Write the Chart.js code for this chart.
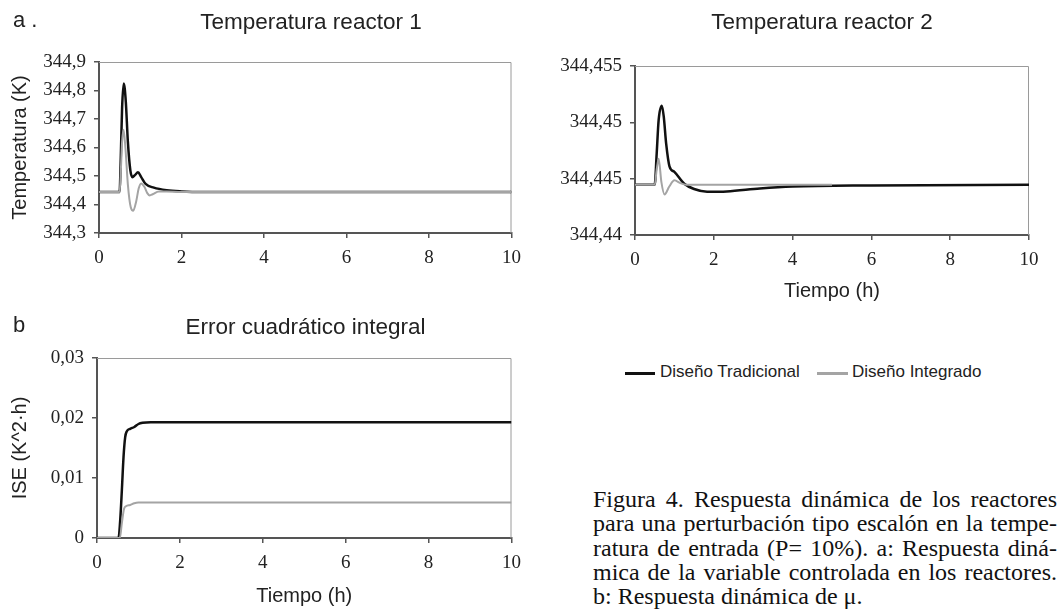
<!DOCTYPE html>
<html>
<head>
<meta charset="utf-8">
<script src="https://cdn.jsdelivr.net/npm/chart.js@4.4.1/dist/chart.umd.min.js"></script>
<style>
  body { margin: 0; background: #fff; width: 1061px; height: 609px; overflow: hidden; position: relative; }
  canvas { position: absolute; }
  .txt { position: absolute; font-family: "Liberation Sans", Arial, sans-serif; color: #222; white-space: nowrap; }
  .cap { position: absolute; left: 593px; top: 487px; width: 464px; font-family: "Liberation Serif", "Times New Roman", serif; font-size: 24px; color: #111; }
  .cap div { height: 24.25px; line-height: 24.25px; text-align: justify; text-align-last: justify; white-space: nowrap; }
  .cap div.last { text-align-last: left; }
  .leg { position: absolute; top: 372px; height: 2.5px; }
</style>
</head>
<body>
<canvas id="r1" width="530" height="300" style="left:0;top:0"></canvas>
<canvas id="r2" width="531" height="310" style="left:530px;top:0"></canvas>
<canvas id="ise" width="530" height="309" style="left:0;top:300px"></canvas>

<div class="txt" style="left:13px;top:7px;font-size:22px">a .</div>
<div class="txt" style="left:13px;top:312px;font-size:22px">b</div>

<div class="leg" style="left:625px;width:30px;background:#111"></div>
<div class="txt" style="left:660px;top:362px;font-size:17px">Diseño Tradicional</div>
<div class="leg" style="left:817px;width:31px;background:#a4a4a4"></div>
<div class="txt" style="left:852px;top:362px;font-size:17px">Diseño Integrado</div>

<div class="cap">
  <div>Figura 4. Respuesta dinámica de los reactores</div>
  <div>para una perturbación tipo escalón en la tempe-</div>
  <div>ratura de entrada (P= 10%). a: Respuesta diná-</div>
  <div>mica de la variable controlada en los reactores.</div>
  <div class="last">b: Respuesta dinámica de μ.</div>
</div>

<script>
// Temperatura reactor 1
let tiempoR1Trad = [0, 0.5, 0.52, 0.56, 0.6, 0.65, 0.7, 0.76, 0.81, 0.87, 0.945, 1.02, 1.13, 1.33, 1.64, 2.0, 2.5, 3, 10];
let tempR1Trad = [344.444, 344.444, 344.52, 344.74, 344.825, 344.76, 344.62, 344.52, 344.496, 344.503, 344.513, 344.497, 344.472, 344.459, 344.45, 344.446, 344.444, 344.444, 344.444];
let tiempoR1Int = [0, 0.5, 0.53, 0.56, 0.595, 0.64, 0.7, 0.77, 0.83, 0.9, 0.96, 1.02, 1.1, 1.17, 1.23, 1.3, 1.45, 1.64, 2, 10];
let tempR1Int = [344.444, 344.444, 344.52, 344.62, 344.662, 344.6, 344.47, 344.39, 344.378, 344.41, 344.455, 344.474, 344.462, 344.44, 344.432, 344.436, 344.446, 344.446, 344.444, 344.444];

// Temperatura reactor 2
let tiempoR2Trad = [0, 0.5, 0.55, 0.6, 0.68, 0.73, 0.79, 0.875, 1.0, 1.25, 1.5, 1.83, 2.33, 3.17, 4, 6, 10];
let tempR2Trad = [344.44446, 344.44446, 344.4472, 344.4502, 344.45148, 344.4505, 344.44813, 344.4461, 344.4456, 344.44455, 344.44408, 344.44384, 344.44387, 344.44413, 344.4443, 344.4444, 344.44446];
let tiempoR2Int = [0, 0.5, 0.55, 0.6, 0.67, 0.75, 0.87, 1.0, 1.15, 1.3, 5];
let tempR2Int = [344.44446, 344.44446, 344.4458, 344.44676, 344.4447, 344.4436, 344.4443, 344.44485, 344.4446, 344.44446, 344.44446];

// Error cuadrático integral
let tiempoIseTrad = [0, 0.52, 0.56, 0.6, 0.64, 0.68, 0.72, 0.8, 0.9, 1.0, 1.1, 1.3, 1.6, 10];
let iseTrad = [0, 0, 0.003, 0.008, 0.0135, 0.0168, 0.0178, 0.0182, 0.0185, 0.019, 0.0192, 0.0193, 0.0193, 0.0193];
let tiempoIseInt = [0, 0.55, 0.6, 0.65, 0.7, 0.8, 0.9, 1.0, 10];
let iseInt = [0, 0, 0.0025, 0.0048, 0.0053, 0.0055, 0.0058, 0.0059, 0.0059];

let xTicks = [0, 2, 4, 6, 8, 10];

const negro = "#111";
const gris = "#a4a4a4";
const tickFont = { family: "'Liberation Serif', 'Times New Roman', serif", size: 19 };
const titleFont = { family: "'Liberation Sans', Arial, sans-serif", size: 20 };

function pares(xs, ys) {
  return xs.map((x, i) => ({ x: x, y: ys[i] }));
}

function coma(v, d) {
  return String(Number(v.toFixed(d))).replace(".", ",");
}

// thin grey frame on top and right
const marco = {
  id: "marco",
  beforeDatasetsDraw(chart) {
    const { ctx, chartArea: a } = chart;
    ctx.save();
    ctx.strokeStyle = "#9a9a9a";
    ctx.lineWidth = 1;
    ctx.beginPath();
    ctx.moveTo(a.left, a.top + 0.5);
    ctx.lineTo(a.right - 0.5, a.top + 0.5);
    ctx.lineTo(a.right - 0.5, a.bottom);
    ctx.stroke();
    ctx.restore();
  },
};

function grafico(id, opts) {
  let datasets = [
    {
      label: "Diseño Integrado",
      data: pares(opts.tInt, opts.vInt),
      borderColor: gris,
      borderWidth: 2,
    },
    {
      label: "Diseño Tradicional",
      data: pares(opts.tTrad, opts.vTrad),
      borderColor: negro,
      borderWidth: 2.5,
    },
  ];
  datasets.forEach((d) => {
    d.pointRadius = 0;
    d.fill = false;
    d.cubicInterpolationMode = "monotone";
  });

  let config = {
    type: "line",
    data: { datasets: datasets },
    options: {
      responsive: false,
      animation: false,
      events: [],
      layout: { padding: opts.padding },
      plugins: { legend: { display: false }, title: { display: false }, tooltip: { enabled: false } },
      scales: {
        x: {
          type: "linear",
          min: 0,
          max: 10,
          afterBuildTicks: (s) => { s.ticks = xTicks.map((v) => ({ value: v })); },
          afterFit: (s) => { s.height = opts.xHeight; },
          border: { color: "#555", width: 2 },
          grid: { drawOnChartArea: false, tickLength: 5, color: "#555", lineWidth: 1.5 },
          ticks: { font: tickFont, color: "#222", padding: 9, maxRotation: 0 },
          title: {
            display: !!opts.xTitle,
            text: opts.xTitle || "",
            font: titleFont,
            color: "#222",
            padding: { top: 0, bottom: opts.xTitlePad || 0 },
          },
        },
        y: {
          type: "linear",
          min: opts.yMin,
          max: opts.yMax,
          afterBuildTicks: (s) => { s.ticks = opts.yTicks.map((v) => ({ value: v })); },
          afterFit: (s) => { s.width = opts.yWidth; },
          border: { color: "#555", width: 2 },
          grid: { drawOnChartArea: false, tickLength: 5, color: "#555", lineWidth: 1.5 },
          ticks: {
            font: tickFont,
            color: "#222",
            padding: 8,
            callback: (v) => coma(v, opts.dec),
          },
          title: {
            display: !!opts.yTitle,
            text: opts.yTitle || "",
            font: titleFont,
            color: "#222",
            padding: { top: 8, bottom: 0 },
          },
        },
      },
    },
    plugins: [marco],
  };
  return new Chart(document.getElementById(id), config);
}

grafico("r1", {
  tTrad: tiempoR1Trad, vTrad: tempR1Trad, tInt: tiempoR1Int, vInt: tempR1Int,
  yMin: 344.3, yMax: 344.9, yTicks: [344.3, 344.4, 344.5, 344.6, 344.7, 344.8, 344.9], dec: 1,
  yTitle: "Temperatura (K)", yWidth: 99, xHeight: 40,
  padding: { left: 0, right: 17, top: 62, bottom: 27 },
});

grafico("r2", {
  tTrad: tiempoR2Trad, vTrad: tempR2Trad, tInt: tiempoR2Int, vInt: tempR2Int,
  yMin: 344.44, yMax: 344.455, yTicks: [344.44, 344.445, 344.45, 344.455], dec: 3,
  xTitle: "Tiempo (h)", xTitlePad: 7, yWidth: 105, xHeight: 75,
  padding: { left: 0, right: 32, top: 66, bottom: 0 },
});

grafico("ise", {
  tTrad: tiempoIseTrad, vTrad: iseTrad, tInt: tiempoIseInt, vInt: iseInt,
  yMin: 0, yMax: 0.03, yTicks: [0, 0.01, 0.02, 0.03], dec: 3,
  yTitle: "ISE (K^2·h)", xTitle: "Tiempo (h)", xTitlePad: 0, yWidth: 97, xHeight: 70,
  padding: { left: 0, right: 16, top: 58, bottom: 1 },
});
</script>

<div class="txt" style="left:99px;width:424px;text-align:center;top:9px;font-size:22.5px">Temperatura reactor 1</div>
<div class="txt" style="left:625px;width:394px;text-align:center;top:9px;font-size:22.5px">Temperatura reactor 2</div>
<div class="txt" style="left:97px;width:417px;text-align:center;top:314px;font-size:22.5px">Error cuadrático integral</div>
</body>
</html>
